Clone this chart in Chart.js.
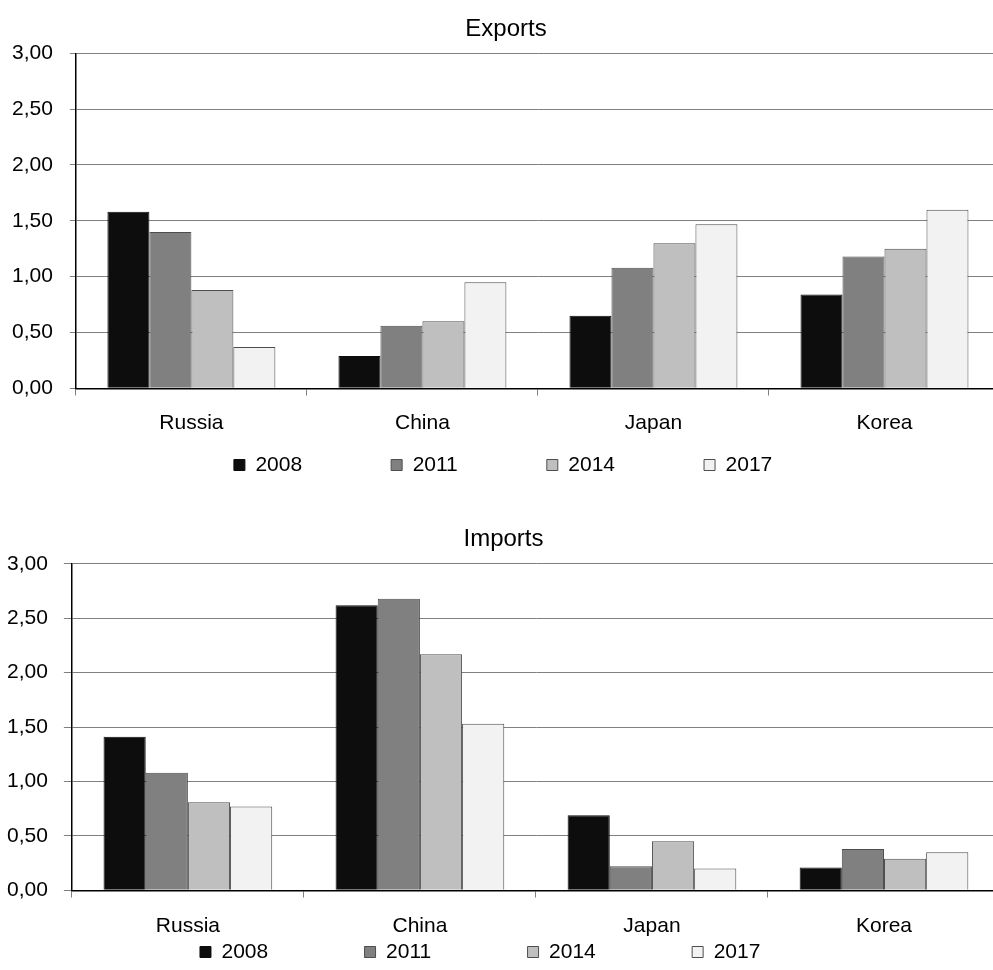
<!DOCTYPE html>
<html>
<head>
<meta charset="utf-8">
<script src="https://cdn.jsdelivr.net/npm/chart.js@4.4.0/dist/chart.umd.min.js"></script>
<style>
  html, body { margin: 0; padding: 0; background: #fff; overflow: hidden; }
  .box { position: relative; width: 1000px; }
</style>
</head>
<body>
<div class="box" style="height:490px"><canvas id="exports"></canvas></div>
<div class="box" style="height:485px"><canvas id="imports"></canvas></div>
<script>
const categories = ['Russia', 'China', 'Japan', 'Korea'];
const years = ['2008', '2011', '2014', '2017'];

const exports2008 = [1.58, 0.29, 0.65, 0.84];
const exports2011 = [1.40, 0.56, 1.08, 1.18];
const exports2014 = [0.88, 0.60, 1.30, 1.25];
const exports2017 = [0.37, 0.95, 1.47, 1.60];

const imports2008 = [1.41, 2.62, 0.69, 0.21];
const imports2011 = [1.08, 2.68, 0.22, 0.38];
const imports2014 = [0.81, 2.17, 0.45, 0.29];
const imports2017 = [0.77, 1.53, 0.20, 0.35];

const fills = ['#0d0d0d', '#808080', '#bfbfbf', '#f2f2f2'];

Chart.defaults.font.family = 'Liberation Sans, Arial, sans-serif';
Chart.defaults.color = '#000';

function makeChart(id, title, series, o) {
  const nb = '\u00a0';
  return new Chart(document.getElementById(id), {
    type: 'bar',
    data: {
      labels: categories,
      datasets: series.map((s, i) => ({
        label: years[i],
        data: s,
        backgroundColor: fills[i],
        borderColor: i === 0 ? '#0d0d0d' : '#4d4d4d',
        borderWidth: 1,
        categoryPercentage: 0.727,
        barPercentage: 1.0
      }))
    },
    options: {
      responsive: true,
      maintainAspectRatio: false,
      animation: false,
      layout: { padding: { left: o.padL, right: 0, top: 0, bottom: o.padB } },
      plugins: {
        tooltip: { enabled: false },
        title: {
          display: true,
          text: title,
          color: '#000',
          font: { size: 24, weight: 'normal' },
          padding: { top: o.titleTop, bottom: o.titleBottom }
        },
        legend: {
          position: 'bottom',
          labels: {
            boxWidth: 11,
            boxHeight: 11,
            padding: o.legendPad,
            font: { size: 21 },
            color: '#000',
            generateLabels(chart) {
              const items = Chart.defaults.plugins.legend.labels.generateLabels(chart);
              items.forEach((it, i) => {
                const n = i < items.length - 1 ? o.gap : o.tail;
                it.text = it.text + nb.repeat(n);
              });
              return items;
            }
          }
        }
      },
      scales: {
        x: {
          grid: {
            display: true,
            drawOnChartArea: false,
            offset: true,
            color: '#808080',
            tickLength: o.xTick,
            tickBorderDash: [6, 200]
          },
          border: { color: '#000', width: 1.5 },
          ticks: { font: { size: 21 }, color: '#000', padding: 0 }
        },
        y: {
          min: 0,
          max: 3,
          grid: {
            color: '#808080',
            tickLength: o.yTick,
            tickBorderDash: [o.yMark, 300],
            tickBorderDashOffset: o.yMark + 300 - (o.yTick - o.yMark)
          },
          border: { color: '#000', width: 1.5 },
          ticks: {
            stepSize: 0.5,
            font: { size: 21 },
            color: '#000',
            padding: 0,
            callback: v => v.toFixed(2).replace('.', ',')
          }
        }
      }
    }
  });
}

makeChart('exports', 'Exports', [exports2008, exports2011, exports2014, exports2017],
  { padL: 12, padB: 4.5, titleTop: 15, titleBottom: 9.5, legendPad: 19, gap: 12, tail: 1,
    xTick: 22, yTick: 23, yMark: 6 });

makeChart('imports', 'Imports', [imports2008, imports2011, imports2014, imports2017],
  { padL: 7, padB: 2.5, titleTop: 35, titleBottom: 10, legendPad: 3, gap: 16, tail: 8,
    xTick: 23, yTick: 24, yMark: 8 });
</script>
</body>
</html>
